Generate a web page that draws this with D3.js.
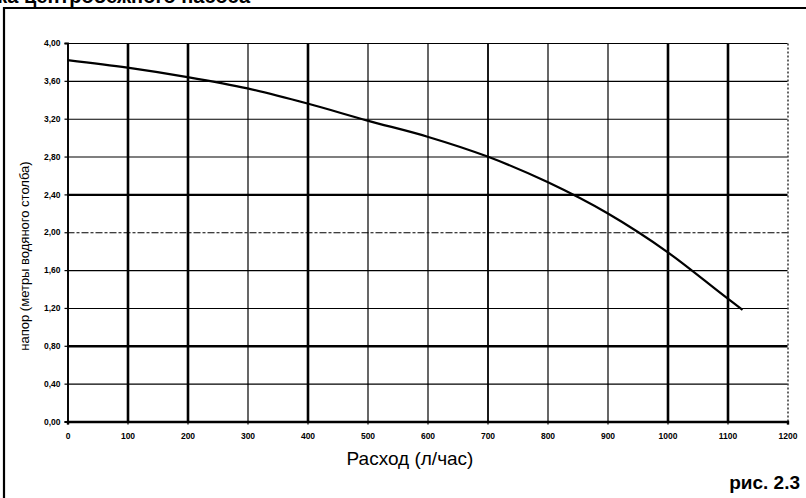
<!DOCTYPE html>
<html>
<head>
<meta charset="utf-8">
<script src="https://cdn.jsdelivr.net/npm/d3@7"></script>
<style>
    html, body { margin: 0; padding: 0; background: #ffffff; }
    #chart { width: 806px; height: 498px; overflow: hidden; }
</style>
</head>
<body>
<div id="chart"></div>
<script>

/* Data -------------------------------------------------------------------- */

// Flow rate (l/h) and head (m of water column)
const flowValues = [0, 100, 200, 300, 400, 500, 600, 700, 800, 900, 1000, 1100, 1125];
const headValues = [3.82, 3.74, 3.64, 3.52, 3.36, 3.18, 3.01, 2.80, 2.53, 2.20, 1.79, 1.30, 1.18];

const xTickValues = [0, 100, 200, 300, 400, 500, 600, 700, 800, 900, 1000, 1100, 1200];
const yTickValues = [0, 0.4, 0.8, 1.2, 1.6, 2.0, 2.4, 2.8, 3.2, 3.6, 4.0];

// Grid lines that came out heavier in the scan
const heavyX = [100, 200, 400, 1000, 1100];
const mediumX = [700];
const heavyY = [2.4, 0.8];

const titleText = "Рабочая характеристика центробежного насоса";
const xTitleText = "Расход (л/час)";
const yTitleText = "напор (метры водяного столба)";
const figureText = "рис. 2.3";

/* Settings ---------------------------------------------------------------- */

const settings = {
    width: 806,
    height: 498,
    marginTop: 43,
    marginLeft: 67.5,
    plotWidth: 720,
    plotHeight: 378.5,
    font: "Arial, 'Liberation Sans', sans-serif"
};

/* Draw graphic ------------------------------------------------------------ */

function drawGraphic() {

    const margin = { top: settings.marginTop, left: settings.marginLeft };
    const width = settings.plotWidth;
    const height = settings.plotHeight;

    const xScale = d3.scaleLinear().domain([0, 1200]).range([0, width]);
    const yScale = d3.scaleLinear().domain([0, 4]).range([height, 0]);

    const svg = d3.select("#chart")
        .append("svg")
        .attr("width", settings.width)
        .attr("height", settings.height)
        .style("font-family", settings.font);

    // Background
    svg.append("rect")
        .attr("width", settings.width)
        .attr("height", settings.height)
        .attr("fill", "#ffffff");

    // Page title, cut off by the top of the scan
    svg.append("text")
        .attr("x", 250)
        .attr("y", 3)
        .attr("text-anchor", "end")
        .style("font-size", "20px")
        .style("font-weight", "bold")
        .text(titleText);

    // Frame around the figure
    svg.append("path")
        .attr("d", "M4,520 L4,8 L820,8")
        .attr("fill", "none")
        .attr("stroke", "#000")
        .attr("stroke-width", 2.2);

    const canvas = svg.append("g")
        .attr("transform", `translate(${margin.left},${margin.top})`);

    // Vertical grid lines
    canvas.append("g")
        .attr("class", "grid xgrid")
        .attr("transform", `translate(0,${height})`)
        .call(d3.axisBottom(xScale)
            .tickValues(xTickValues)
            .tickSize(-height)
            .tickFormat(""));

    // Horizontal grid lines
    canvas.append("g")
        .attr("class", "grid ygrid")
        .call(d3.axisLeft(yScale)
            .tickValues(yTickValues)
            .tickSize(-width)
            .tickFormat(""));

    canvas.selectAll(".grid path").remove();

    canvas.selectAll(".xgrid line")
        .attr("stroke", "#000")
        .attr("stroke-width", d => heavyX.includes(d) ? 2.6 :
            mediumX.includes(d) ? 1.8 : 1.2)
        .attr("stroke-dasharray", d => d === 1200 ? "2,2" : null);

    canvas.selectAll(".ygrid line")
        .attr("stroke", "#000")
        .attr("stroke-width", d => heavyY.includes(d) ? 2.4 : 1.1)
        .attr("stroke-dasharray", d => d === 2.0 ? "7,2,3,2" : null);

    // Pump curve
    const line = d3.line()
        .x((d, i) => xScale(flowValues[i]))
        .y(d => yScale(d))
        .curve(d3.curveMonotoneX);

    canvas.append("path")
        .datum(headValues)
        .attr("d", line)
        .attr("fill", "none")
        .attr("stroke", "#000")
        .attr("stroke-width", 2.2);

    // X-axis
    canvas.append("g")
        .attr("class", "axis xaxis")
        .attr("transform", `translate(0,${height})`)
        .call(d3.axisBottom(xScale)
            .tickValues(xTickValues)
            .tickSize(3)
            .tickPadding(8)
            .tickFormat(d3.format("d")));

    // Y-axis
    canvas.append("g")
        .attr("class", "axis yaxis")
        .call(d3.axisLeft(yScale)
            .tickValues(yTickValues)
            .tickSize(3)
            .tickPadding(4)
            .tickFormat(d => d3.format(".2f")(d).replace(".", ",")));

    canvas.select(".xaxis path")
        .attr("stroke", "#000")
        .attr("stroke-width", 2.4);

    canvas.select(".yaxis path")
        .attr("stroke", "#000")
        .attr("stroke-width", 1.8);

    canvas.selectAll(".axis line")
        .attr("stroke", "#000")
        .attr("stroke-width", 1.2);

    canvas.selectAll(".axis text")
        .attr("fill", "#000")
        .style("font-family", settings.font)
        .style("font-size", "8.5px")
        .style("font-weight", "bold");

    // X-axis title
    svg.append("text")
        .attr("x", 410)
        .attr("y", 465)
        .attr("text-anchor", "middle")
        .style("font-size", "19px")
        .text(xTitleText);

    // Y-axis title
    svg.append("text")
        .attr("transform", "translate(29,256) rotate(-90)")
        .attr("text-anchor", "middle")
        .style("font-size", "13px")
        .text(yTitleText);

    // Figure number
    svg.append("text")
        .attr("x", 800)
        .attr("y", 489)
        .attr("text-anchor", "end")
        .style("font-size", "19px")
        .style("font-weight", "bold")
        .text(figureText);
}

/* Main -------------------------------------------------------------------- */

drawGraphic();

</script>
</body>
</html>
